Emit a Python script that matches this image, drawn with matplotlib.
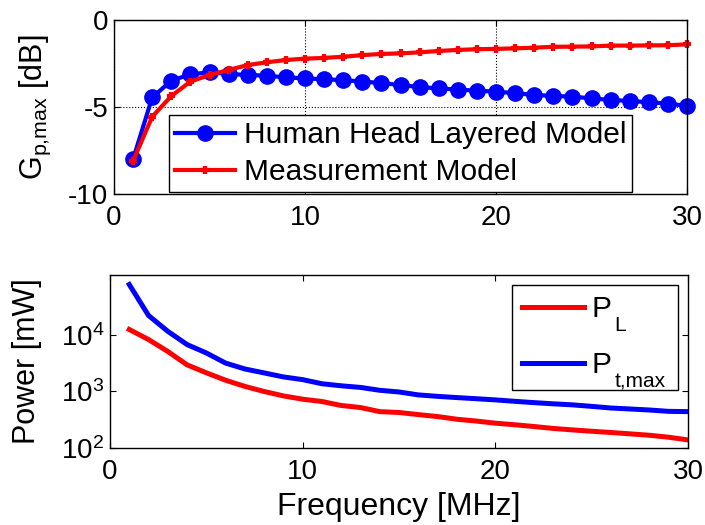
import matplotlib
matplotlib.use('Agg')
import matplotlib.pyplot as plt
from matplotlib.ticker import LogLocator, NullFormatter

plt.rcParams['font.family'] = ['Liberation Sans', 'DejaVu Sans']
plt.rcParams['mathtext.fontset'] = 'custom'
plt.rcParams['mathtext.rm'] = 'Liberation Sans'
plt.rcParams['mathtext.it'] = 'Liberation Sans:italic'
plt.rcParams['mathtext.bf'] = 'Liberation Sans:bold'
plt.rcParams['axes.unicode_minus'] = False

# frequency axis (MHz)
freq = list(range(1, 31))

# max power gain [dB]
gain_head = [-8.0, -4.45, -3.49, -3.12, -3.01, -3.10, -3.16, -3.20, -3.30, -3.35,
             -3.41, -3.45, -3.54, -3.62, -3.74, -3.85, -3.93, -4.00, -4.06, -4.12,
             -4.20, -4.31, -4.36, -4.41, -4.50, -4.60, -4.65, -4.73, -4.80, -4.94]
gain_meas = [-8.1, -5.56, -4.37, -3.54, -3.16, -2.87, -2.59, -2.43, -2.30, -2.22,
             -2.18, -2.11, -2.02, -1.95, -1.92, -1.86, -1.78, -1.72, -1.68, -1.66,
             -1.63, -1.59, -1.54, -1.53, -1.52, -1.47, -1.47, -1.46, -1.45, -1.40]

# power [mW]
p_load = [12500, 8300, 5100, 2960, 2140, 1580, 1230, 1000, 835, 730,
          665, 565, 520, 440, 425, 390, 360, 323, 300, 275,
          258, 240, 222, 209, 198, 188, 178, 168, 155, 139]
p_tmax = [78000, 22100, 11600, 6760, 4800, 3180, 2500, 2130, 1810, 1620,
          1370, 1260, 1180, 1050, 980, 870, 820, 780, 745, 710,
          670, 635, 605, 580, 545, 510, 490, 470, 445, 440]

# legend subscripts for the power plot (drawn by hand, MATLAB-style low subscripts)
power_subs = ['L', 't,max']

fig = plt.figure(figsize=(7.05, 5.25), dpi=100)
ax1 = fig.add_axes([114 / 705, 1 - 194 / 525, 573 / 705, 174 / 525])
ax2 = fig.add_axes([110 / 705, 1 - 448 / 525, 578 / 705, 173 / 525])

# top plot
ax1.plot(freq, gain_head, color='b', lw=3, marker='o', ms=11, clip_on=False,
         label='Human Head Layered Model')
ax1.plot(freq, gain_meas, color='r', lw=3, marker='+', ms=6, mew=3, clip_on=False,
         label='Measurement Model')
ax1.set_xlim(0, 30)
ax1.set_ylim(-10, 0)
ax1.set_xticks([0, 10, 20, 30])
ax1.set_yticks([-10, -5, 0])
ax1.grid(True, color='k', ls=':', lw=0.8)
ax1.set_ylabel(r'G$_{\mathrm{p{,}max}}$ [dB]', fontsize=22)
ax1.yaxis.set_label_coords(-0.106, 0.5)
leg1 = ax1.legend(loc='lower left', bbox_to_anchor=(0.096, 0.011), borderaxespad=0,
                  fontsize=21.5, handlelength=2.0, handletextpad=0.3, borderpad=0.2,
                  labelspacing=0.3, fancybox=False, framealpha=1, edgecolor='k')
leg1.get_frame().set_linewidth(1.0)

# bottom plot
ax2.semilogy(freq, p_load, color='r', lw=3.6, label='P')
ax2.semilogy(freq, p_tmax, color='b', lw=3.6, label='P')
ax2.set_xlim(0, 30)
ax2.set_ylim(100, 1.15e5)
ax2.set_xticks([0, 10, 20, 30])
ax2.set_yticks([1e2, 1e3, 1e4])
ax2.yaxis.set_minor_locator(LogLocator(base=10, subs=range(2, 10)))
ax2.yaxis.set_minor_formatter(NullFormatter())
ax2.set_xlabel('Frequency [MHz]', fontsize=23, labelpad=5)
ax2.set_ylabel('Power [mW]', fontsize=22)
ax2.yaxis.set_label_coords(-0.118, 0.5)
# expand mode stretches the frame so the hand-placed subscripts fit inside
leg2 = ax2.legend(loc='upper left', bbox_to_anchor=(0.6955, 0.3, 0.2872, 0.642),
                  mode='expand', borderaxespad=0,
                  fontsize=21.5, handlelength=2.05, handletextpad=0.27, borderpad=0.35,
                  labelspacing=0.93, fancybox=False, framealpha=1, edgecolor='k')
leg2.get_frame().set_linewidth(1.0)

for ax in (ax1, ax2):
    ax.tick_params(which='both', direction='in', top=True, right=True, labelsize=20)
    ax.tick_params(axis='x', pad=8)
    ax.tick_params(axis='y', pad=4)
    ax.tick_params(which='major', length=4, width=0.8)
    ax.tick_params(which='minor', length=2, width=0.6)
    for s in ax.spines.values():
        s.set_linewidth(1.0)

# place the subscripts after the legend has been laid out
fig.canvas.draw()
renderer = fig.canvas.get_renderer()
for txt, sub in zip(leg2.get_texts(), power_subs):
    fp = txt.get_fontproperties()
    bb = txt.get_window_extent(renderer)
    d_lp = renderer.get_text_width_height_descent('lp', fp, ismath=False)[2]
    x = bb.x1 + 3
    y = bb.y0 + d_lp - 14
    fig.text(x / fig.bbox.width, y / fig.bbox.height, sub, fontsize=15,
             ha='left', va='baseline')

fig.savefig('out.png', dpi=100)
